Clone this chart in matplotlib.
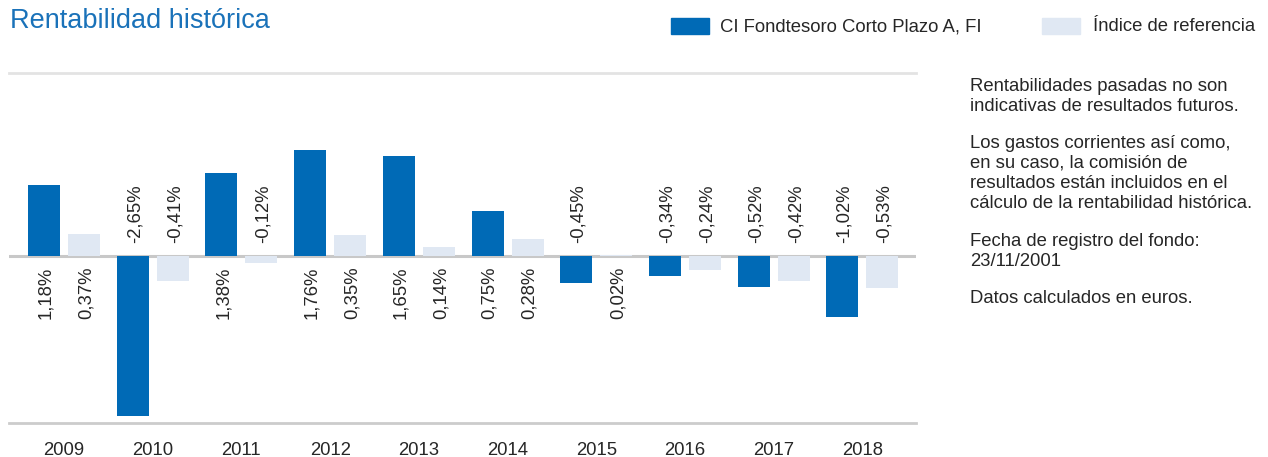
import matplotlib
matplotlib.use("Agg")
import matplotlib.pyplot as plt
from matplotlib.patches import Rectangle
import numpy as np

# ---- data ----
years = ["2009", "2010", "2011", "2012", "2013", "2014", "2015", "2016", "2017", "2018"]
fund = [1.18, -2.65, 1.38, 1.76, 1.65, 0.75, -0.45, -0.34, -0.52, -1.02]
index_ref = [0.37, -0.41, -0.12, 0.35, 0.14, 0.28, 0.02, -0.24, -0.42, -0.53]
series_names = ["CI Fondtesoro Corto Plazo A, FI", "Índice de referencia"]
title = "Rentabilidad histórica"
side_lines = [
    "Rentabilidades pasadas no son",
    "indicativas de resultados futuros.",
    "Los gastos corrientes así como,",
    "en su caso, la comisión de",
    "resultados están incluidos en el",
    "cálculo de la rentabilidad histórica.",
    "Fecha de registro del fondo:",
    "23/11/2001",
    "Datos calculados en euros.",
]

# ---- style ----
plt.rcParams['font.family'] = ['Liberation Sans', 'DejaVu Sans']
FUND_C = "#006ab6"
IDX_C = "#e0e8f3"
TEXT_C = "#262626"
TITLE_C = "#1a72b9"

W, H = 1268, 457
fig = plt.figure(figsize=(W / 100, H / 100), dpi=100)

def px(x0, y0_top, w, h):
    return [x0 / W, 1 - (y0_top + h) / H, w / W, h / H]

ax = fig.add_axes(px(9, 73, 907, 350))
x = np.arange(len(years))
bw = 0.361
off = 0.2255
ax.bar(x - off, fund, bw, color=FUND_C, zorder=3)
ax.bar(x + off, index_ref, bw, color=IDX_C, zorder=3)
ax.set_xlim(-0.62, 9.605)
ax.set_ylim(-2.77, 3.03)
ax.axhline(0, color="#c8c8c8", lw=2.2, zorder=2)
for s in ["left", "right"]:
    ax.spines[s].set_visible(False)
ax.spines["top"].set_color("#e3e3e3")
ax.spines["top"].set_linewidth(2)
ax.spines["bottom"].set_color("#cccccc")
ax.spines["bottom"].set_linewidth(2)
ax.set_xticks([])
ax.set_yticks([])

def fmt(v):
    return f"{v:.2f}".replace(".", ",") + "%"

for xs, vals in ((x - off, fund), (x + off, index_ref)):
    for xi, v in zip(xs, vals):
        if v >= 0:
            ax.annotate(fmt(v), xy=(xi, 0), xytext=(2, -11), textcoords="offset pixels",
                        rotation=90, ha="center", va="top", fontsize=13.3, color=TEXT_C)
        else:
            ax.annotate(fmt(v), xy=(xi, 0), xytext=(2, 13), textcoords="offset pixels",
                        rotation=90, ha="center", va="bottom", fontsize=13.3, color=TEXT_C)

for xi, yr in zip(x, years):
    ax.annotate(yr, xy=(xi, 0), xycoords=("data", "axes fraction"), xytext=(0, -32),
                textcoords="offset pixels", ha="center", va="baseline",
                fontsize=13.3, color=TEXT_C, annotation_clip=False)

# title
fig.text(10 / W, 1 - 28 / H, title, fontsize=19.5, color=TITLE_C, ha="left", va="baseline")

# legend
fig.patches.append(Rectangle((671 / W, 1 - 34 / H), 38 / W, 16 / H, transform=fig.transFigure,
                             color=FUND_C, figure=fig))
fig.text(720 / W, 1 - 31 / H, series_names[0], fontsize=13.3, color=TEXT_C, ha="left", va="baseline")
fig.patches.append(Rectangle((1042 / W, 1 - 34 / H), 38 / W, 16 / H, transform=fig.transFigure,
                             color=IDX_C, figure=fig))
fig.text(1093 / W, 1 - 31 / H, series_names[1], fontsize=13.3, color=TEXT_C, ha="left", va="baseline")

# side notes
baselines = [91, 111, 148, 168, 188, 208, 246, 266, 303]
for line, b in zip(side_lines, baselines):
    fig.text(970 / W, 1 - b / H, line, fontsize=13.3, color=TEXT_C, ha="left", va="baseline")

fig.savefig("out.png", dpi=100)
